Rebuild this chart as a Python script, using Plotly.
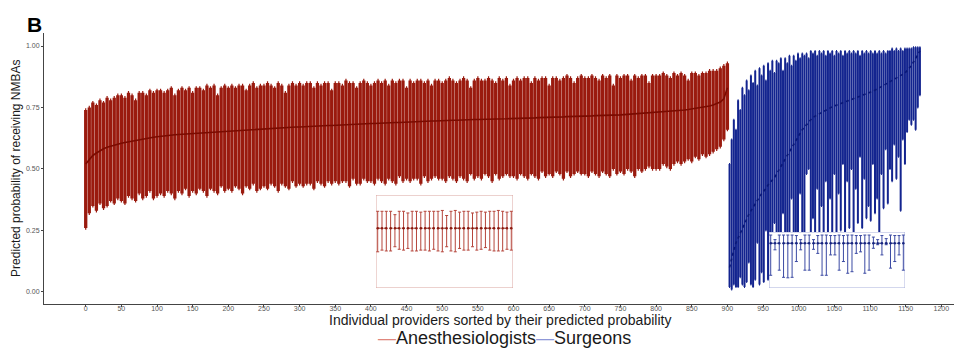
import numpy as np
import plotly.graph_objects as go

# ---------------- data (probabilities in percent) ----------------
# Anesthesiologists: every 5th provider rank (0..900)
anes_rank = list(range(0, 901, 5))
anes_mean = [52.0,54.0,55.5,56.5,57.5,58.2,58.8,59.3,59.7,60.1,60.5,60.8,61.1,61.4,61.7,62.0,62.3,62.5,62.7,62.9,63.1,
             63.3,63.4,63.6,63.7,63.9,64.0,64.1,64.3,64.4,64.5,64.6,64.7,64.8,64.9,65.0,65.1,65.2,65.3,65.4,65.5,
             65.6,65.7,65.8,65.9,66.0,66.0,66.1,66.2,66.3,66.4,66.5,66.5,66.6,66.7,66.8,66.8,66.9,67.0,67.1,67.1,
             67.2,67.3,67.3,67.4,67.5,67.5,67.6,67.7,67.7,67.8,67.9,67.9,68.0,68.1,68.1,68.2,68.3,68.3,68.4,68.5,
             68.5,68.6,68.6,68.7,68.8,68.8,68.9,68.9,69.0,69.1,69.1,69.2,69.2,69.3,69.3,69.4,69.5,69.5,69.6,69.6,
             69.7,69.7,69.8,69.8,69.9,69.9,70.0,70.0,70.1,70.1,70.1,70.1,70.2,70.2,70.3,70.3,70.4,70.4,70.5,70.5,
             70.6,70.6,70.7,70.7,70.8,70.8,70.9,70.9,71.0,71.0,71.1,71.1,71.2,71.2,71.3,71.3,71.4,71.4,71.5,71.5,
             71.6,71.6,71.7,71.7,71.8,71.8,71.9,71.9,72.0,72.0,72.1,72.2,72.3,72.4,72.5,72.6,72.7,72.8,72.9,73.0,
             73.1,73.2,73.3,73.4,73.5,73.6,73.8,74.0,74.2,74.4,74.6,74.8,75.0,75.3,75.6,76.0,76.5,77.2,78.5,83.0]
anes_upper = [74,75,77,76,78,77,79,78,79,80,80,79,81,80,78,81,81,80,82,81,82,
              82,81,82,83,80,82,83,82,83,81,83,83,82,84,83,84,80,83,84,83,
              84,83,84,84,82,84,85,83,84,84,85,84,83,85,84,81,84,85,84,85,
              84,85,85,83,85,84,85,85,82,85,85,84,86,85,85,83,85,86,85,84,
              85,86,85,86,84,86,85,86,86,83,86,85,86,86,85,86,84,86,86,85,
              86,87,86,85,86,87,86,83,86,87,86,86,87,86,85,87,86,87,84,86,
              87,86,87,87,85,87,86,87,87,84,87,87,86,87,88,87,85,87,88,87,
              87,88,87,86,88,87,88,84,88,87,88,88,86,88,87,88,88,85,88,88,
              88,89,88,87,89,88,89,88,86,89,89,88,89,89,90,90,90,91,92,93]
anes_lower = [26,32,35,33,36,34,35,37,36,38,37,36,39,38,37,40,38,39,41,38,39,
              40,39,41,40,38,41,40,42,39,41,40,42,41,39,42,41,40,43,41,42,
              41,43,42,40,43,42,44,41,42,43,42,44,43,41,44,43,42,45,43,44,
              43,44,44,42,45,44,43,45,44,45,44,45,45,43,46,44,44,46,45,45,
              44,46,45,44,46,45,44,47,45,46,45,46,46,44,47,45,46,47,46,46,
              45,47,46,45,47,46,45,48,46,47,46,48,47,45,48,46,47,48,47,47,
              46,48,47,46,48,47,46,49,47,48,47,49,48,46,49,47,48,49,48,48,
              47,49,48,47,49,48,47,50,48,49,48,50,49,47,50,49,50,51,50,50,
              50,52,51,50,52,53,52,53,54,53,55,54,56,55,56,57,58,59,62,66]

# Surgeons: every 3rd provider rank (903..1170)
surg_rank = list(range(903, 1171, 3))
surg_mean = [10,14,17,20,22,24,26,28,30,31.5, 33,34.5,36,37.5,39,40,41,42,43.5,44.5,
             45.5,46.5,48,49.5,51,52.5,54,55.5,57,59, 60.5,62,63.5,65,66,67,68,69,70,71,
             71.5,72,72.5,73,73.5,74,74.5,75,75.3,75.6, 76,76.3,76.6,77,77.3,77.6,78,78.3,78.6,79,
             79.3,79.6,80,80.3,80.6,81,81.3,81.6,82,82.5, 83,83.5,84,84.5,85,85.5,86,86.5,87,87.5,
             88,88.5,89,90,91,92,93.5,95,96.5,98]
surg_upper = [52,62,70,66,78,74,83,80,86,82, 88,85,90,84,91,88,92,86,93,90,
              94,89,94,93,95,90,95,93,96,92, 96,94,97,95,97,96,97,95,98,97,
              98,96,98,97,98,96,98,97,98,96, 98,97,98,96,98,97,98,97,98,97,
              98,96,98,97,98,97,98,97,98,97, 98,97,98,97,98,98,99,98,99,98,
              99,98,99,99,99,99,99.5,99.5,99.5,99.5]
surg_lower = [2,1,3,2,2,6,3,2,4,12, 3,2,5,20,3,8,4,25,5,10,
              6,28,7,12,8,32,9,15,10,38, 12,20,14,40,13,22,48,50,15,30,
              18,42,16,35,20,45,18,38,22,48, 20,40,25,52,22,45,26,50,24,42,
              28,55,26,46,30,35,29,52,32,38, 20,48,34,58,36,50,45,60,46,55,
              33,62,52,65,70,68,70,66,75,80]

# Inset (zoomed) samples
anes_inset_mean = [66]*32
anes_inset_upper = [86,86,86,86,82,86,86,84,86,86,85,86,86,86,86,87,81,86,87,85,86,86,84,85,86,85,86,86,87,86,85,86]
anes_inset_lower = [38,40,39,39,44,41,40,42,39,39,40,40,39,41,39,38,44,39,38,42,40,40,44,40,41,43,40,39,39,39,41,40]
surg_inset_mean = [83]*32
surg_inset_upper = [99,90,99,99,99,99,98,90,99,99,90,98,99,99,98,98,99,98,99,99,98,98,99,99,95,90,98,92,99,98,98,99]
surg_inset_lower = [20,70,30,16,15,16,47,70,30,30,71,63,20,20,60,60,30,47,24,27,63,66,24,30,73,80,60,80,34,47,60,30]

group_names = ["Anesthesiologists", "Surgeons"]
x_ticks = list(range(0, 1201, 50))
y_ticks = [0, 0.25, 0.5, 0.75, 1.0]
y_ticktext = ["0.00", "0.25", "0.50", "0.75", "1.00"]

# ---------------- styling ----------------
RED_BAR = "#9a1a0e"
RED_LINE = "#7a0b00"
BLUE_BAR = "#13248f"
BLUE_LINE = "#0a1877"
RED_KEY = "#e0877d"
BLUE_KEY = "#8f98d8"
FONT = "Liberation Sans, Arial, sans-serif"


def pct(a):
    return np.asarray(a, dtype=float) / 100.0


def errbar_trace(x, mean, upper, lower, color, thick, capw, name, xaxis="x", yaxis="y"):
    m, u, l = pct(mean), pct(upper), pct(lower)
    return go.Scatter(
        x=x, y=m, mode="markers", xaxis=xaxis, yaxis=yaxis, name=name,
        marker=dict(size=1, color="rgba(0,0,0,0)"),
        error_y=dict(type="data", symmetric=False, array=u - m, arrayminus=m - l,
                     color=color, thickness=thick, width=capw),
        showlegend=False, hoverinfo="skip")


fig = go.Figure()

# main error bars
fig.add_trace(errbar_trace(anes_rank, anes_mean, anes_upper, anes_lower, RED_BAR, 3.3, 0.6, group_names[0]))
fig.add_trace(errbar_trace(surg_rank, surg_mean, surg_upper, surg_lower, BLUE_BAR, 2.0, 0.5, group_names[1]))
# mean lines
fig.add_trace(go.Scatter(x=anes_rank, y=pct(anes_mean), mode="lines", name=group_names[0],
                         line=dict(color=RED_LINE, width=1.6), showlegend=False, hoverinfo="skip"))
fig.add_trace(go.Scatter(x=surg_rank, y=pct(surg_mean), mode="lines", name=group_names[1],
                         line=dict(color=BLUE_LINE, width=1.6, dash="dot"), showlegend=False, hoverinfo="skip"))

# insets
inset_x = list(range(1, 33))
fig.add_trace(errbar_trace(inset_x, anes_inset_mean, anes_inset_upper, anes_inset_lower,
                           "#b5453b", 1.0, 1.5, group_names[0], "x2", "y2"))
fig.add_trace(go.Scatter(x=inset_x, y=pct(anes_inset_mean), mode="lines+markers", xaxis="x2", yaxis="y2",
                         line=dict(color="#8a1a10", width=1, dash="dot"), marker=dict(size=2.5, color="#8a1a10"),
                         showlegend=False, hoverinfo="skip"))
fig.add_trace(errbar_trace(inset_x, surg_inset_mean, surg_inset_upper, surg_inset_lower,
                           "#3b4aa3", 1.0, 1.5, group_names[1], "x3", "y3"))
fig.add_trace(go.Scatter(x=inset_x, y=pct(surg_inset_mean), mode="lines+markers", xaxis="x3", yaxis="y3",
                         line=dict(color="#17257f", width=1, dash="dot"), marker=dict(size=2.5, color="#17257f"),
                         showlegend=False, hoverinfo="skip"))

axis_common = dict(showline=True, linecolor="#444444", linewidth=1, ticks="outside", ticklen=2,
                   tickcolor="#444444", tickwidth=1, tickfont=dict(size=7, color="#555555", family=FONT),
                   showgrid=False, zeroline=False, automargin=False)
inset_axis = dict(showline=False, showticklabels=False, ticks="", showgrid=False, zeroline=False,
                  fixedrange=True, automargin=False)

Y_RANGE = [-0.049, 1.053]
IN_X_RANGE = [0.6, 32.4]

legend_text = (f"<span style='color:{RED_KEY}'>\u2014</span>{group_names[0]}"
               f"<span style='color:{BLUE_KEY}'>\u2014</span>{group_names[1]}")

fig.update_layout(
    width=954, height=348,
    margin=dict(l=44, r=0, t=33, b=44, autoexpand=False),
    paper_bgcolor="white", plot_bgcolor="white",
    font=dict(family=FONT, color="#000000"),
    showlegend=False,
    xaxis=dict(range=[-58.5, 1217.8], tickvals=x_ticks, ticklabelstandoff=-4, **axis_common),
    yaxis=dict(range=Y_RANGE, tickvals=y_ticks, ticktext=y_ticktext, **axis_common),
    xaxis2=dict(domain=[0.3648, 0.5154], range=IN_X_RANGE, anchor="y2", **inset_axis),
    yaxis2=dict(domain=[0.059, 0.4022], range=Y_RANGE, anchor="x2", **inset_axis),
    xaxis3=dict(domain=[0.7967, 0.9462], range=IN_X_RANGE, anchor="y3", **inset_axis),
    yaxis3=dict(domain=[0.059, 0.2657], range=[-0.05, 1.05], anchor="x3", **inset_axis),
    shapes=[
        dict(type="rect", xref="x2", yref="y2", x0=IN_X_RANGE[0], x1=IN_X_RANGE[1],
             y0=Y_RANGE[0], y1=Y_RANGE[1], fillcolor="white",
             line=dict(color="#d9a39d", width=1), layer="below"),
        dict(type="rect", xref="x3", yref="y3", x0=IN_X_RANGE[0], x1=IN_X_RANGE[1],
             y0=-0.05, y1=1.05, fillcolor="white",
             line=dict(color="#a7aedb", width=1), layer="below"),
    ],
    annotations=[
        dict(text="<b>B</b>", xref="paper", yref="paper", x=-0.0099, y=1.033,
             xanchor="center", yanchor="middle", showarrow=False,
             font=dict(size=21, family=FONT, color="#000000")),
        dict(text="Individual providers sorted by their predicted probability",
             xref="paper", yref="paper", x=0.5015, y=-0.059, xanchor="center", yanchor="middle",
             showarrow=False, font=dict(size=14, family=FONT, color="#1a1a1a")),
        dict(text="Predicted probability of receiving NMBAs",
             xref="paper", yref="paper", x=-0.0308, y=0.502, xanchor="center", yanchor="middle",
             textangle=-90, showarrow=False, font=dict(size=12, family=FONT, color="#1a1a1a")),
        dict(text=legend_text, xref="paper", yref="paper", x=0.5055, y=-0.1245,
             xanchor="center", yanchor="middle", showarrow=False,
             font=dict(size=18, family=FONT, color="#1a1a1a")),
    ],
)

fig.write_html("out.html", config={"displayModeBar": False},
               post_script="document.body.style.margin='0px';document.body.style.overflow='hidden';")
